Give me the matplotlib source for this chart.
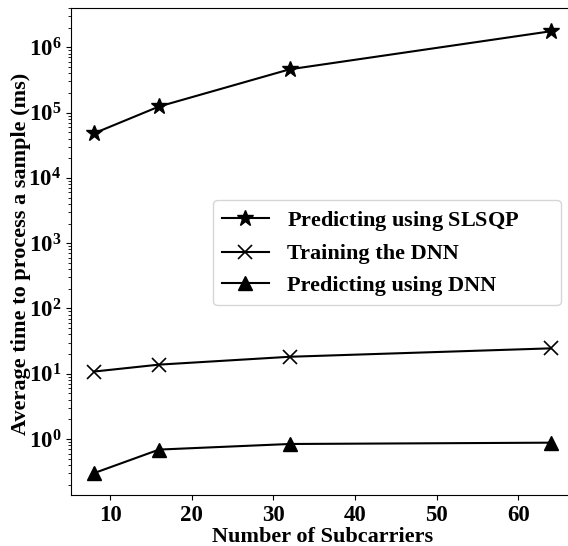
import matplotlib
matplotlib.use('Agg')
from matplotlib import pyplot as plt

plt.rcParams['font.family'] = ['Liberation Serif', 'DejaVu Serif']
plt.rcParams['font.weight'] = 'bold'
plt.rcParams['mathtext.fontset'] = 'custom'
plt.rcParams['mathtext.sf'] = 'Liberation Serif'
plt.rcParams['mathtext.rm'] = 'Liberation Serif:bold'

subcarriers = [8, 16, 32, 64]
slsqp_predict = [4.8e4, 1.24e5, 4.6e5, 1.76e6]
dnn_train = [10.8, 13.8, 18.2, 24.5]
dnn_predict = [0.30, 0.69, 0.84, 0.88]

# trailing spaces on the last label widen the box like the original
labels = ['Predicting using $\\mathsf{SLSQP}$', 'Training the DNN',
          'Predicting using DNN' + ' ' * 10]

fig = plt.figure(figsize=(5.68, 5.46), dpi=100)
ax = fig.add_axes([0.125, 0.0934, 0.885, 0.892])

ax.plot(subcarriers, slsqp_predict, color='black', marker='*', markersize=12,
        linewidth=1.5, label=labels[0])
ax.plot(subcarriers, dnn_train, color='black', marker='x', markersize=10,
        markeredgewidth=1.2, linewidth=1.5, label=labels[1])
ax.plot(subcarriers, dnn_predict, color='black', marker='^', markersize=10,
        linewidth=1.5, label=labels[2])

ax.set_yscale('log')
ax.set_ylim(0.139, 4e6)
ax.set_xlim(5.2, 66.8)
ax.set_xticks([10, 20, 30, 40, 50, 60])
ax.set_yticks([1, 10, 100, 1e3, 1e4, 1e5, 1e6])
ax.tick_params(axis='both', labelsize=16.5)

ax.set_xlabel('Number of Subcarriers', fontsize=16, fontweight='bold', labelpad=1)
ax.set_ylabel('Average time to process a sample (ms)', fontsize=16,
              fontweight='bold')
ax.yaxis.set_label_coords(-0.080, 0.495)

ax.legend(loc='upper left', bbox_to_anchor=(0.283, 0.606), borderaxespad=0,
          prop={'weight': 'bold', 'size': 16}, handlelength=2.1)

fig.savefig('out.png', dpi=100)
